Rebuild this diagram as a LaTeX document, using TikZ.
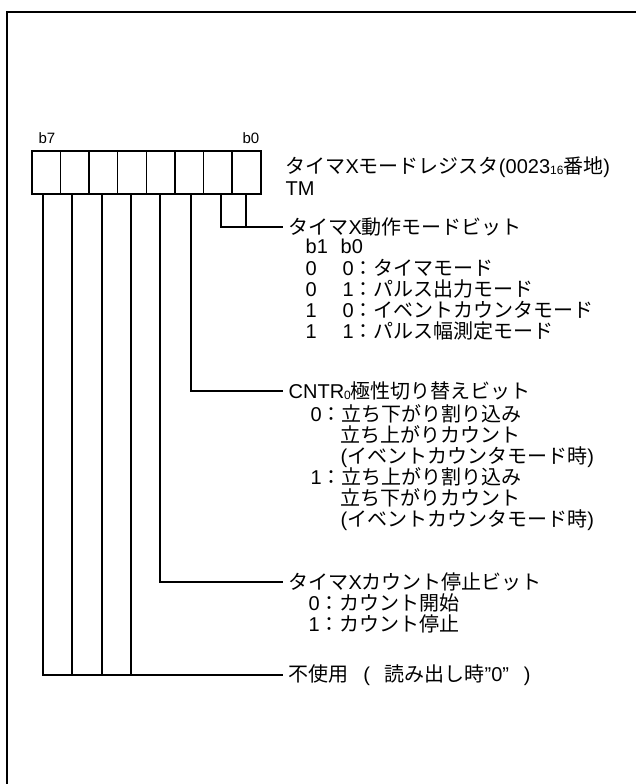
\documentclass[tikz,border=0pt]{standalone}
\usepackage{fontspec}
\setmainfont{Liberation Sans}
\newfontfamily\J{Noto Sans CJK JP}
\newcommand\jp[1]{{\J #1}}
\newcommand\subs[1]{\raisebox{-1pt}{\fontsize{12}{12}\selectfont #1}}
\begin{document}
\begin{tikzpicture}[x=1pt,y=-1pt,line width=1.3pt,
  lbl/.style={anchor=west,inner xsep=5pt,inner ysep=0pt,font=\fontsize{20}{22}\selectfont},
  txt/.style={anchor=base west,inner sep=0pt,font=\fontsize{20}{22}\selectfont},
  bitlbl/.style={anchor=base west,inner sep=0pt,font=\fontsize{15}{15}\selectfont},
  cell/.style={draw,line width=1.6pt,minimum width=28.625pt,minimum height=43pt,inner sep=0pt,anchor=north west}]
\useasboundingbox (0,0) rectangle (636,784);
% frame
\draw[line width=2pt] (7,784) -- (7,12) -- (636,12);
% register cells
\foreach \i in {0,...,7}{
  \node[cell] (c\i) at ({31+28.625*(7-\i)},150) {};
}
\node[bitlbl] (b7) at (38,143) {b7};
\node[bitlbl] (b0) at (242,143) {b0};
% title
\node[txt] (title) at (285,173) {\jp{タイマ}X\jp{モードレジスタ}(0023\subs{16}\jp{番地})};
\node[txt] (tm) at (285,195) {TM};
% labels
\node[lbl] (lmode) at (283,227) {\jp{タイマ}X\jp{動作モードビット}};
\node[lbl] (lcntr) at (283,391) {CNTR\subs{0}\jp{極性切り替えビット}};
\node[lbl] (lcount) at (283,582) {\jp{タイマ}X\jp{カウント停止ビット}};
\node[lbl] (lunused) at (283,675) {\jp{不使用}\makebox[36pt]{(}\jp{読み出し時}"0"\makebox[36pt]{)}};
% mode sub-items
\node[txt] (mh1) at (305,253) {b1};
\node[txt] (mh0) at (340,253) {b0};
\node[txt] (m1a) at (305,275) {0};
\node[txt] (m1b) at (342,275) {0\jp{：タイマモード}};
\node[txt] (m2a) at (305,296) {0};
\node[txt] (m2b) at (342,296) {1\jp{：パルス出力モード}};
\node[txt] (m3a) at (305,317) {1};
\node[txt] (m3b) at (342,317) {0\jp{：イベントカウンタモード}};
\node[txt] (m4a) at (305,338) {1};
\node[txt] (m4b) at (342,338) {1\jp{：パルス幅測定モード}};
% cntr sub-items
\node[txt] (p1) at (310,421) {0\jp{：立ち下がり割り込み}};
\node[txt] (p2) at (340,442) {\jp{立ち上がりカウント}};
\node[txt] (p3) at (340,463) {(\jp{イベントカウンタモード時})};
\node[txt] (p4) at (310,484) {1\jp{：立ち上がり割り込み}};
\node[txt] (p5) at (340,505) {\jp{立ち下がりカウント}};
\node[txt] (p6) at (340,526) {(\jp{イベントカウンタモード時})};
% count sub-items
\node[txt] (s1) at (308,610) {0\jp{：カウント開始}};
\node[txt] (s2) at (308,631) {1\jp{：カウント停止}};
% bit lines
\coordinate (t7) at (43,193);
\coordinate (t6) at (72,193);
\coordinate (t5) at (102,193);
\coordinate (t4) at (131,193);
\coordinate (t3) at (160,193);
\coordinate (t2) at (191,193);
\coordinate (t1) at (221,193);
\coordinate (t0) at (246,193);
\draw (t0) -- (t0 |- lmode.west);
\draw (t1) |- (lmode.west);
\draw (t2) |- (lcntr.west);
\draw[line width=1.8pt] (t3) |- (lcount.west);
\draw (t4) |- (lunused.west);
\draw (t5) -- (t5 |- lunused.west);
\draw (t6) -- (t6 |- lunused.west);
\draw (t7) |- (lunused.west);
\end{tikzpicture}
\end{document}
